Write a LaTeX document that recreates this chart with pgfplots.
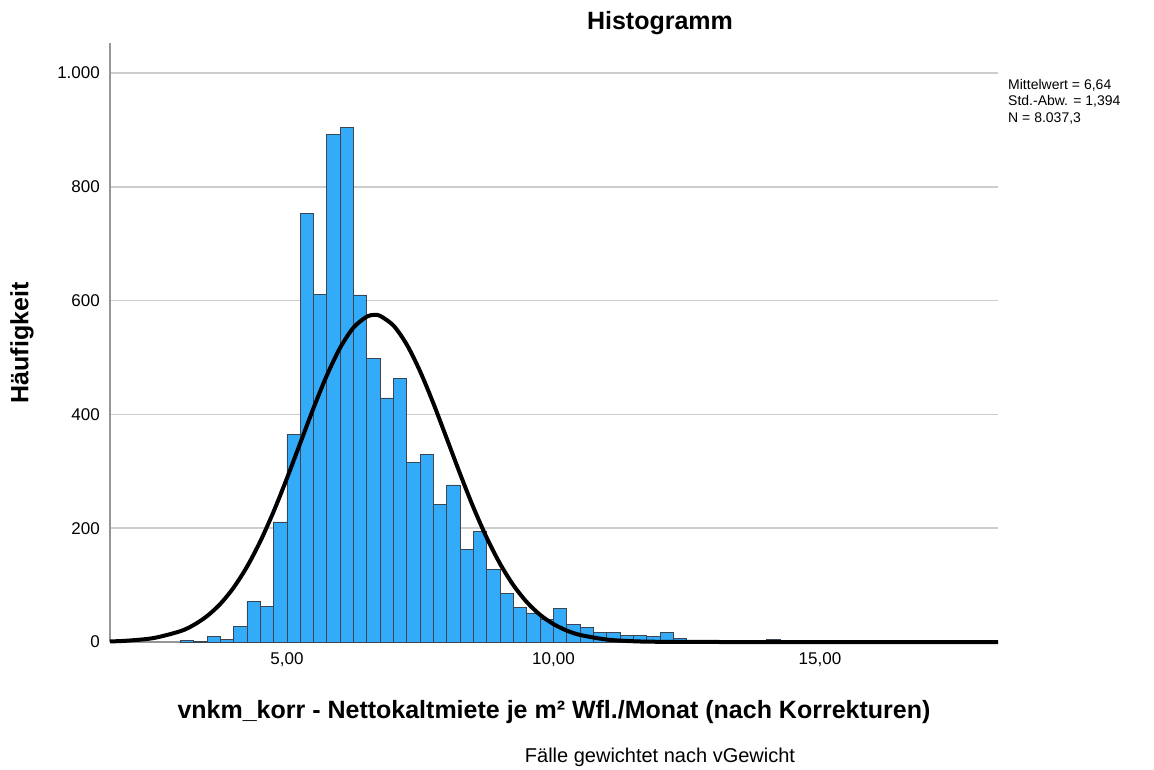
\documentclass[border=0pt]{standalone}
\usepackage{fontspec}
\setmainfont{Liberation Sans}
\usepackage{pgfplots}
\usepackage{pgfplotstable}
\pgfplotsset{compat=1.18}

\definecolor{barblue}{RGB}{51,171,249}
\definecolor{baredge}{RGB}{60,70,82}
\definecolor{gridgray}{RGB}{205,205,205}
\definecolor{axisgray}{RGB}{150,150,150}

% Klassen (linke Grenze) und Haeufigkeiten, Klassenbreite 0,25
\pgfplotstableread{
x y
3.00 3
3.25 1
3.50 9
3.75 4
4.00 28
4.25 71
4.50 63
4.75 211
5.00 364
5.25 753
5.50 611
5.75 892
6.00 904
6.25 610
6.50 498
6.75 429
7.00 464
7.25 316
7.50 330
7.75 242
8.00 276
8.25 162
8.50 194
8.75 128
9.00 85
9.25 60
9.50 51
9.75 39
10.00 59
10.25 31
10.50 25
10.75 16
11.00 17
11.25 12
11.50 12
11.75 9
12.00 16
12.25 6
12.50 3
12.75 2
13.00 2
13.25 1
13.50 1
13.75 1
14.00 4
14.25 1
14.50 0
}\bins

% Normalverteilungskurve (Mittelwert 6,64; Std.-Abw. 1,394; N 8.037,3)
\pgfplotstableread{
x y
1.68 1.0
2.00 2.3
2.50 7.0
3.00 19.0
3.25 29.9
3.50 45.5
3.75 67.0
4.00 95.7
4.25 132.3
4.50 177.0
4.75 229.4
5.00 287.9
5.25 349.8
5.50 411.6
5.75 469.0
6.00 517.5
6.25 552.9
6.50 572.1
6.64 575.0
6.75 573.2
7.00 556.1
7.25 522.5
7.50 475.3
7.75 418.8
8.00 357.2
8.25 295.1
8.50 236.1
8.75 182.9
9.00 137.2
9.25 99.6
9.50 70.1
9.75 47.7
10.00 31.5
10.25 20.1
10.50 12.4
11.00 4.3
11.50 1.3
12.00 0.35
13.00 0.02
14.00 0
16.00 0
18.34 0
}\curve

\begin{document}
\begin{tikzpicture}
\useasboundingbox (-110pt,-127pt) rectangle (1044pt,642pt);
\begin{axis}[
    scale only axis,
    width=888pt, height=599pt,
    xmin=1.68, xmax=18.34,
    ymin=0, ymax=1053,
    axis x line*=bottom, axis y line*=left,
    axis line style={-, axisgray, line width=2pt},
    xtick={5,10,15},
    xticklabels={{5,00},{10,00},{15,00}},
    ytick={0,200,400,600,800,1000},
    yticklabels={0,200,400,600,800,{1.000}},
    major tick length=0pt,
    tick label style={font=\fontsize{17}{19}\selectfont},
    xticklabel style={inner sep=0pt, anchor=north, yshift=-10pt},
    yticklabel style={inner sep=0pt, anchor=east, xshift=-10pt},
    ymajorgrids,
    grid style={gridgray, line width=1.5pt},
    clip=false,
]
\addplot[ybar interval, fill=barblue, draw=baredge, line width=0.9pt] table[x=x, y=y] {\bins};
\addplot[black, line width=4pt, smooth] table[x=x, y=y] {\curve};
\end{axis}

\node[font=\bfseries\fontsize{25}{28}\selectfont] at (550pt,619pt) {Histogramm};
\node[font=\bfseries\fontsize{25}{28}\selectfont] at (444pt,-70pt)
    {vnkm\_korr - Nettokaltmiete je m² Wfl./Monat (nach Korrekturen)};
\node[font=\bfseries\fontsize{25}{28}\selectfont, rotate=90] at (-88pt,299pt) {Häufigkeit};
\node[font=\fontsize{20}{23}\selectfont] at (550pt,-115pt) {Fälle gewichtet nach vGewicht};
\node[font=\fontsize{14}{16.5}\selectfont, anchor=north west, align=left, inner sep=0pt]
    at (898pt,563pt) {Mittelwert = 6,64\\Std.-Abw. = 1,394\\N = 8.037,3};
\end{tikzpicture}
\end{document}
